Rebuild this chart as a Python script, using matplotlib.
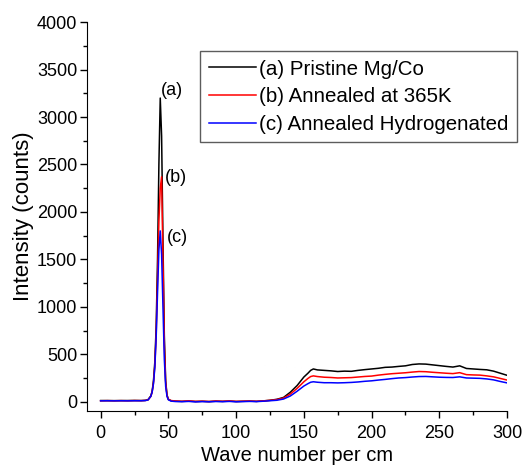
import matplotlib
matplotlib.use('Agg')
from matplotlib import pyplot as plt
from matplotlib.ticker import MultipleLocator

plt.rcParams['font.family'] = ['Liberation Sans', 'DejaVu Sans']

wave = [0, 5, 10, 15, 20, 25, 30, 33, 35, 37, 38, 39, 40, 41, 42, 43, 44, 45, 46, 47, 48, 49, 50, 52,
        55, 60, 65, 70, 75, 80, 85, 90, 95, 100, 105, 110, 115, 120,
        125, 130, 135, 140, 145, 150, 153, 155, 157, 160, 165, 170, 175, 180, 185, 190, 195,
        200, 205, 210, 215, 220, 225, 230, 235, 240, 245, 250, 255, 260, 265, 270, 275,
        280, 285, 290, 295, 300]

pristine = [12, 12, 11, 12, 12, 13, 12, 14, 22, 60, 110, 220, 420, 800, 1500, 2500, 3200, 2800, 1700, 700, 220, 70, 25, 10,
            5, 3, 6, 2, 4, 1, 5, 3, 6, 2, 4, 6, 3, 8,
            15, 25, 45, 100, 170, 260, 300, 330, 345, 335, 330, 325, 318, 322, 320, 330, 338,
            345, 352, 362, 365, 372, 378, 392, 398, 396, 388, 380, 372, 365, 378, 350, 345,
            340, 336, 322, 300, 278]

annealed = [10, 11, 10, 11, 10, 12, 11, 13, 20, 55, 100, 200, 380, 720, 1300, 1900, 2250, 2370, 1500, 600, 200, 65, 25, 12,
            8, 4, 9, 3, 5, 2, 7, 4, 8, 3, 5, 7, 4, 9,
            14, 22, 38, 80, 140, 210, 245, 265, 272, 265, 258, 255, 250, 252, 254, 260, 266,
            270, 280, 288, 295, 300, 305, 312, 318, 316, 310, 305, 300, 296, 306, 285, 282,
            280, 272, 262, 245, 228]

hydrogenated = [9, 10, 9, 10, 9, 10, 10, 12, 18, 55, 100, 190, 360, 680, 1150, 1600, 1800, 1550, 1000, 450, 160, 55, 20, 6,
                2, 0, 3, -2, 1, -1, 2, 0, 3, -1, 1, 3, 1, 5,
                10, 15, 28, 60, 110, 165, 190, 205, 210, 205, 200, 200, 198, 200, 203, 208, 215,
                220, 228, 235, 243, 250, 254, 260, 265, 266, 262, 258, 256, 255, 262, 250, 248,
                246, 240, 230, 213, 198]

series_labels = ['(a) Pristine Mg/Co', '(b) Annealed at 365K', '(c) Annealed Hydrogenated']
peak_tags = ['(a)', '(b)', '(c)']

fig = plt.figure(figsize=(5.31, 4.71), dpi=100)
ax = fig.add_axes([0.164, 0.127, 0.791, 0.826])

ax.plot(wave, pristine, color='black', lw=1.1, label=series_labels[0])
ax.plot(wave, annealed, color='red', lw=1.1, label=series_labels[1])
ax.plot(wave, hydrogenated, color='blue', lw=1.1, label=series_labels[2])

# peak tags next to the maxima
for tag, x, y in zip(peak_tags, [44.5, 47.5, 49], [3280, 2360, 1730]):
    ax.text(x, y, tag, fontsize=13, ha='left', va='center')

ax.set_xlim(-10, 300)
ax.set_ylim(-100, 4000)
ax.xaxis.set_major_locator(MultipleLocator(50))
ax.xaxis.set_minor_locator(MultipleLocator(25))
ax.yaxis.set_major_locator(MultipleLocator(500))
ax.yaxis.set_minor_locator(MultipleLocator(250))
ax.spines['top'].set_visible(False)
ax.spines['right'].set_visible(False)
ax.tick_params(which='major', direction='out', length=5, width=1, labelsize=13)
ax.tick_params(axis='x', which='major', pad=5)
ax.tick_params(axis='y', which='major', pad=2)
ax.tick_params(which='minor', direction='out', length=3, width=1)

ax.set_xlabel('Wave number per cm', fontsize=14.5, labelpad=3)
ax.set_ylabel('Intensity (counts)', fontsize=16, labelpad=2)

leg = ax.legend(loc='upper left', bbox_to_anchor=(0.377, 0.892), bbox_transform=fig.transFigure,
                fontsize=14.8, frameon=True, fancybox=False, edgecolor='#333333',
                borderpad=0.42, labelspacing=0.42, handlelength=2.3, handletextpad=0.15,
                borderaxespad=0)
leg.get_frame().set_linewidth(1)

fig.savefig('out.png', dpi=100)
